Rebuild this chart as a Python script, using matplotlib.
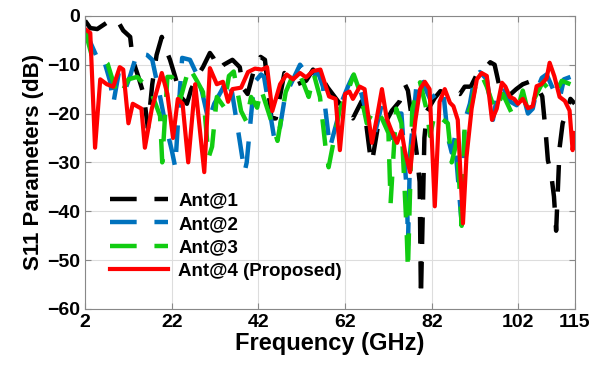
import matplotlib
matplotlib.use('Agg')
import matplotlib.pyplot as plt

plt.rcParams['font.family'] = ['Liberation Sans', 'DejaVu Sans']
plt.rcParams['font.weight'] = 'bold'

# Ant@1
blk_f = [2, 3.2, 4.8, 7, 8.5, 9.5, 10.8, 12.4, 13, 14.3, 15.5, 16.5, 17.5, 18.5, 19.7, 20.5, 21.6, 22.8, 24, 25.5,
         26.5, 27.8, 29.2, 30.8, 31.6, 32.8, 34, 36, 37.7, 38.4, 39.5, 41, 42.5, 43.5, 45, 46, 48, 49, 51, 53,
         54.6, 56, 57.3, 58, 61.3, 63.8, 65.8, 66.5, 67.7, 68.2, 69.5, 70, 72.8, 74.6, 75.8, 76.5, 78.5, 79.2, 79.5, 80.3,
         80.9, 82.7, 84, 85.5, 87, 88.5, 89.6, 91, 92.4, 94, 95.5, 96.5, 98, 99.5, 101.5, 103, 104.5, 106, 107.5, 108.3,
         108.8, 109.5, 110.2, 110.7, 111.5, 112.2, 113, 114, 115]
blk_db = [-1, -2.5, -2.7, -1.4, -0.5, -1, -3, -4.3, -9, -12.5, -16, -23, -14, -8, -4.3, -6.5, -9, -12.5, -16.5, -18,
          -15, -12.5, -10.5, -7.6, -8.6, -11, -10, -9, -10.5, -14.7, -16, -11, -8.4, -9, -21, -21, -11.7, -12.6, -14, -13.3,
          -11, -14, -13.7, -14.7, -18.6, -21, -17.5, -19.5, -28, -30, -23, -24, -19.4, -17.5, -14, -15.3, -28, -34, -57.6, -25,
          -19.5, -16.8, -15.4, -16, -15.5, -16, -14.5, -14.5, -12, -11, -9.5, -10, -16, -16.6, -15, -14, -13.5, -14, -16.5, -24,
          -29.6, -32, -37, -44, -27, -22, -20, -17, -18]

# Ant@2
blu_f = [2, 3.5, 5, 6.2, 7.8, 8.5, 9.7, 11.3, 12.5, 14, 16.3, 17.5, 19.3, 20.5, 22, 22.8, 23.9, 24.4, 26.2, 27.8,
         29, 30.5, 31.8, 33.8, 34.4, 35.9, 37.4, 38.8, 39.3, 41, 42.6, 43.3, 45.6, 46.5, 48.3, 49.3, 51.6, 53.2, 54.6, 55.7,
         56.9, 57.5, 58.5, 60, 61.5, 62.7, 63.8, 65.4, 67.3, 68.9, 70.5, 71.9, 72.8, 74, 75, 76.3, 76.5, 77, 78.6, 79.3,
         81.6, 84.6, 85.7, 86.6, 87.3, 88.2, 88.9, 89.6, 90.8, 91.9, 93.1, 94.7, 96.1, 97.2, 98.4, 100, 101.6, 103, 104.2, 105.3,
         106.2, 107.4, 108.5, 110, 111.5, 112.5, 114]
blu_db = [-3, -6, -9, -8.6, -13.5, -18, -12, -15, -12, -7.6, -8, -9, -16.5, -22, -27.5, -31, -15, -8.6, -9, -12,
          -15.6, -21.5, -18, -14.8, -13, -15.6, -24, -32, -30, -13.7, -12, -12.5, -24.8, -25.4, -15.6, -14.3, -10, -12, -12.8, -11.4,
          -14.5, -19.5, -27, -22, -17, -14.4, -12.3, -14.8, -21, -24, -18, -22.5, -25, -20, -20, -37, -47, -28, -13, -12.5,
          -17, -15, -24.8, -28, -25, -35, -42.5, -21.5, -18, -12.5, -11.5, -13, -21.3, -16, -14.5, -17.5, -18.3, -16, -20, -19,
          -15.3, -12.7, -12, -15, -17, -13, -12.5]

# Ant@3
grn_f = [2, 3.5, 5.2, 7.2, 9, 10, 12, 14, 15.2, 17, 19.3, 19.8, 21, 22, 23.5, 24, 26, 27.8, 29.2, 30.5,
         31.3, 32.4, 34, 35.2, 36.3, 38, 39.2, 40.3, 41.7, 42.6, 45, 46.4, 48.3, 49.9, 51, 52.3, 53.6, 54.8, 56.2, 57.5,
         58.2, 60.8, 62, 64, 65.6, 67, 68.8, 70.5, 72, 72.5, 73.8, 75, 76.2, 76.5, 77.5, 79.3, 80.9, 81.6, 82.7, 85.7,
         86.6, 87.8, 88.9, 89.6, 91.2, 92.4, 93.6, 94.7, 96.6, 98.4, 100.5, 101.9, 103, 104.2, 106.2, 107.6, 109, 110.5, 112, 114]
grn_db = [-3, -8, -8, -9.8, -15, -16.5, -13, -12.5, -13.6, -15, -20.5, -30, -12.5, -12.5, -14.5, -17, -10.5, -13.3, -15.6, -29,
          -26.8, -16.6, -18.6, -12.3, -11.4, -19.5, -21.6, -16.6, -18.8, -15, -21.6, -25.6, -15.6, -12.3, -11, -13.6, -16.6, -12, -16.6, -27,
          -31, -19, -17, -12, -16, -22, -19, -21, -24, -38.4, -19, -22, -44, -52, -19, -13.6, -19.6, -24.6, -20, -22,
          -30, -25.6, -43, -22, -18, -13, -12.3, -14.5, -19.4, -16, -20, -18.7, -15.3, -19.6, -16, -13.6, -15, -16, -13.3, -14]

# Ant@4 (Proposed)
red_f = [2, 3.2, 4.3, 5.5, 7, 8.5, 10, 10.8, 12, 13, 15, 15.8, 17.4, 19.7, 21, 22.3, 23.4, 24.5, 25.8, 27.4,
         29.5, 30.8, 32.4, 33.8, 35, 36, 38, 39.6, 41.2, 42.8, 44, 45.2, 47, 48.5, 50, 51.6, 53, 54.6, 56.3, 58.3,
         59.8, 60.8, 62, 63, 63.8, 65.4, 66.5, 68.2, 69.3, 70.5, 71.6, 72.7, 74, 75, 75.8, 77, 78.2, 79.3, 80.4, 81.5,
         82.7, 83.8, 85, 86.2, 87, 88, 89.2, 90, 91.2, 92.4, 93.5, 94.7, 95.9, 97, 98.2, 99, 100, 101, 101.9, 103,
         104.2, 105.3, 106.2, 107.3, 108.5, 109.2, 110.3, 111.5, 112.7, 113.8, 114.5, 115]
red_db = [-2.7, -3.5, -27, -13, -14, -14.5, -10.5, -11, -22, -18, -19, -27, -19, -11.7, -16, -25, -17, -18, -30, -14,
          -32, -10.7, -14, -13.5, -17.6, -15, -14.7, -11.5, -10.8, -11, -10.5, -19.5, -14, -12, -13, -11.7, -12.6, -11.3, -11, -16.5,
          -17, -27.5, -16, -15.5, -17, -14.5, -15, -26, -21, -15, -21, -23.5, -26, -23.5, -27.7, -32, -21.5, -15, -13.5, -15,
          -39, -17.6, -15, -17.8, -18.5, -21.3, -42.5, -29, -19, -13, -11.7, -12.3, -21.3, -19, -13.7, -14.5, -16.6, -17, -18, -17,
          -18.9, -18.5, -14.4, -14, -12.8, -9.6, -12.4, -16.6, -17.4, -19.4, -27.5, -24]

xticks = [2, 22, 42, 62, 82, 102, 115]
yticks = [-60, -50, -40, -30, -20, -10, 0]

fig = plt.figure(figsize=(5.95, 3.69), dpi=100)
ax = fig.add_axes([0.143, 0.163, 0.823, 0.794])

dash = (6, 4)
ax.plot(blk_f, blk_db, color='black', lw=3.2, dashes=dash, label='Ant@1')
ax.plot(blu_f, blu_db, color='#0072BD', lw=3.2, dashes=dash, label='Ant@2')
ax.plot(grn_f, grn_db, color='#11CC11', lw=3.2, dashes=dash, label='Ant@3')
ax.plot(red_f, red_db, color='#FF0000', lw=3, label='Ant@4 (Proposed)')

ax.set_xlim(2, 115)
ax.set_ylim(-60, 0)
ax.set_xticks(xticks)
ax.set_yticks(yticks)
ax.grid(True, color='#dddddd', lw=0.8)
ax.set_axisbelow(True)
ax.tick_params(direction='in', top=True, right=True, labelsize=14, color='#888888', length=4)
for s in ax.spines.values():
    s.set_color('#888888')

ax.set_xlabel('Frequency (GHz)', fontsize=17, fontweight='bold', labelpad=1)
ax.set_ylabel('S11 Parameters (dB)', fontsize=16, fontweight='bold', labelpad=2)

ax.legend(loc='lower left', bbox_to_anchor=(0.051, 0.1), frameon=False, fontsize=13.5,
          handlelength=3.1, handletextpad=0.55, labelspacing=0.33, borderpad=0, borderaxespad=0)

fig.savefig('out.png', dpi=100)
